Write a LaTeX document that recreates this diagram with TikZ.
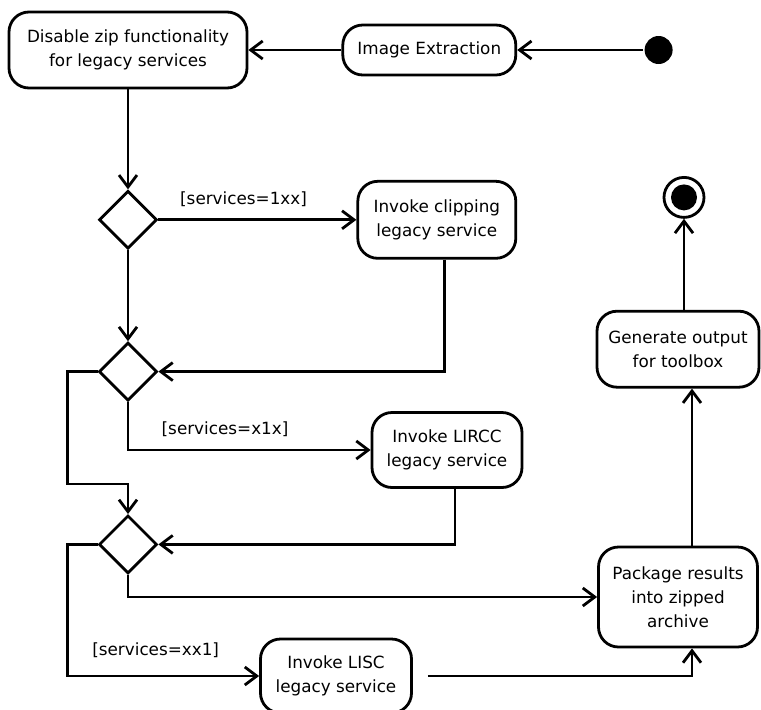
\documentclass[tikz,border=0pt]{standalone}
\usepackage{fontspec}
\setmainfont{DejaVu Sans}
\usetikzlibrary{arrows.meta,positioning,shapes.geometric,calc}

\begin{document}
\begin{tikzpicture}[x=1pt, y=-1pt, >={Straight Barb[length=12pt,width=18pt]}, line width=2.8pt, font=\fontsize{16.8}{24}\selectfont]
\tikzstyle{action}=[draw, fill=white, rounded corners=20pt, align=center, inner sep=2pt]
\tikzstyle{decision}=[draw, diamond, minimum width=58pt, minimum height=58pt, inner sep=0pt]
\tikzstyle{startdot}=[circle, fill=black, minimum size=28pt, inner sep=0pt]
\tikzstyle{enddot}=[circle, draw, minimum size=40pt, inner sep=0pt,
    path picture={\fill (path picture bounding box.center) circle (13pt);}]
\useasboundingbox (0,0) rectangle (761,710);

\node[action, minimum width=238pt, minimum height=76pt] (disable) at (128,50) {Disable zip functionality\\for legacy services};
\node[action, minimum width=173pt, minimum height=50pt] (img) [right=93pt of disable] {Image Extraction};
\node[startdot] (start) [right=126pt of img] {};
\node[decision] (d1) [below=100pt of disable] {};
\node[decision] (d2) [below=91pt of d1] {};
\node[decision] (d3) [below=112pt of d2] {};
\node[action, minimum width=158pt, minimum height=77pt] (clip) [right=198pt of d1] {Invoke clipping\\legacy service};
\node[action, minimum width=150pt, minimum height=75pt] (lircc) at (447,450) {Invoke LIRCC\\legacy service};
\node[action, minimum width=151pt, minimum height=74pt] (lisc) at (336,676) {Invoke LISC\\legacy service};
\node[action, minimum width=159pt, minimum height=100pt] (pack) at (678,597) {Package results\\into zipped\\archive};
\node[action, minimum width=162pt, minimum height=76pt] (gen) [above=157pt of pack] {Generate output\\for toolbox};
\node[enddot] (final) [above=91pt of gen, xshift=6pt] {};

\draw[every edge/.append style={->}]
(start) edge (img)
(img) edge (disable)
(disable) edge (d1)
(d1) edge node[above=8pt, pos=0.43] {[services=1xx]} (clip)
(d1) edge (d2)
([xshift=14pt]pack.north) edge ([xshift=14pt]gen.south)
([xshift=6pt]gen.north) edge (final);

% branches and merges
\draw[->] ([xshift=8pt]clip.south) |- (d2);
\draw[->] (d2) |- node[above=9pt, pos=0.7] {[services=x1x]} (lircc);
\draw[->] (d2.west) -- ++(-30,0) |- ($(d3.north)+(0,-30)$) -- (d3.north);
\draw[->] ([xshift=8pt]lircc.south) |- (d3);
\draw[->] (d3.west) -- ++(-30,0) |- node[above=14pt, pos=0.73] {[services=xx1]} (lisc);
\draw[->] (d3) |- (pack);
\draw[->] ($(lisc.east)+(15,0)$) -| ([xshift=14pt]pack.south);
\end{tikzpicture}
\end{document}
